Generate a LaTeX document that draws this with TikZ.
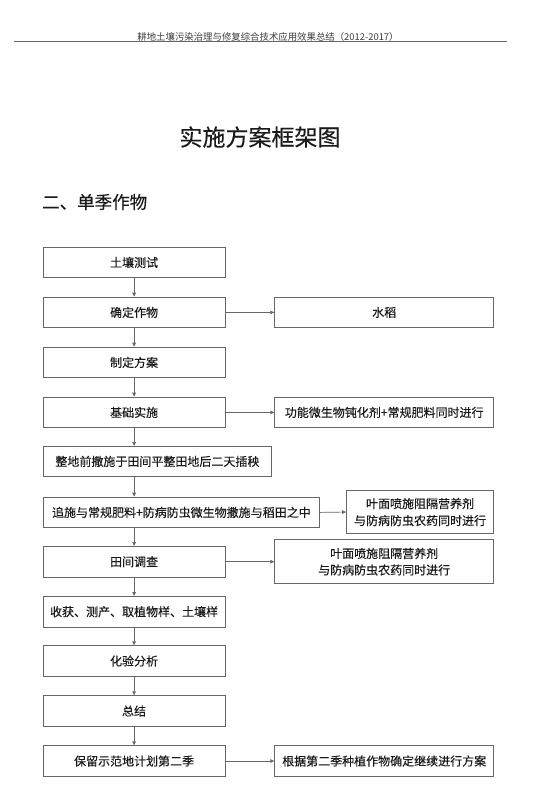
\documentclass[tikz,border=0pt]{standalone}
\usepackage{fontspec}
\setmainfont{Noto Sans CJK SC}
\newfontfamily\cjk[FakeBold=0.25]{Noto Sans CJK SC}
\newfontfamily\cjkhdr{Noto Sans CJK SC}
\usetikzlibrary{arrows.meta}
\definecolor{linegray}{HTML}{666666}
\definecolor{txt}{HTML}{1A1A1A}
\tikzset{
  box/.style={draw=linegray, line width=0.8pt, rectangle, anchor=north west, inner sep=0pt,
    minimum height=30.6pt, font=\cjk\fontsize{12}{16}\selectfont, text=txt, align=center},
  leftbox/.style={box, minimum width=182pt},
  rightbox/.style={box, minimum width=219pt},
  flow/.style={draw=linegray, line width=0.7pt, -{Triangle[length=4pt,width=3.6pt]}},
}
\begin{document}
\begin{tikzpicture}[x=1pt,y=-1pt]
\useasboundingbox (0,0) rectangle (539,811);
\fill[white] (0,0) rectangle (539,811);
% header
\node[font=\cjkhdr\fontsize{9.4}{11}\selectfont, text=txt!85] (hdr) at (268,36.5) {耕地土壤污染治理与修复综合技术应用效果总结（2012-2017）};
\coordinate (hl) at (14,41.7);
\coordinate (hr) at (507,41.7);
\draw[linegray, line width=0.9pt] (hl) -- (hr);
% titles
\node[font=\cjk\fontsize{23}{26}\selectfont, text=txt] (title) at (260,137) {实施方案框架图};
\node[font=\cjk\fontsize{17.5}{20}\selectfont, text=txt, anchor=west, inner sep=0pt] (sub) at (42,202) {二、单季作物};
% left column
\node[leftbox] (b1) at (42.7,246.7) {土壤测试};
\node[leftbox] (b2) at (42.7,296.7) {确定作物};
\node[leftbox] (b3) at (42.7,346.7) {制定方案};
\node[leftbox] (b4) at (42.7,396.7) {基础实施};
\node[box, minimum width=228.6pt, minimum height=30pt] (b5) at (42.7,446) {整地前撒施于田间平整田地后二天插秧};
\node[box, minimum width=276.6pt] (b6) at (42.7,496.7) {追施与常规肥料+防病防虫微生物撒施与稻田之中};
\node[leftbox] (b7) at (42.7,546) {田间调查};
\node[leftbox] (b8) at (42.7,596) {收获、测产、取植物样、土壤样};
\node[leftbox] (b9) at (42.7,645.3) {化验分析};
\node[leftbox] (b10) at (42.7,695.3) {总结};
\node[leftbox] (b11) at (42.7,745.3) {保留示范地计划第二季};
% right column
\node[rightbox] (r2) at (274.3,296.7) {水稻};
\node[rightbox] (r4) at (274.3,396.7) {功能微生物钝化剂+常规肥料同时进行};
\node[box, minimum width=147.3pt, minimum height=43.3pt, font=\cjk\fontsize{12}{17}\selectfont] (r6) at (346,490) {叶面喷施阻隔营养剂\\与防病防虫农药同时进行};
\node[rightbox, minimum height=44pt, font=\cjk\fontsize{12}{16.5}\selectfont] (r7) at (274.3,539.3) {叶面喷施阻隔营养剂\\与防病防虫农药同时进行};
\node[rightbox] (r11) at (274.3,745.3) {根据第二季种植作物确定继续进行方案};
% vertical arrows
\foreach \a/\b in {b1/b2,b2/b3,b3/b4,b4/b5,b5/b6,b6/b7,b7/b8,b8/b9,b9/b10,b10/b11}{
  \draw[flow] (\a.south -| b1.south) -- (\b.north -| b1.north);
}
% horizontal arrows
\draw[flow] (b2.east) -- (r2.west);
\draw[flow] (b4.east) -- (r4.west);
\draw[flow] (b6.east) -- (r6.west);
\draw[flow] (b7.east) -- (r7.west);
\draw[flow] (b11.east) -- (r11.west);
\end{tikzpicture}
\end{document}
